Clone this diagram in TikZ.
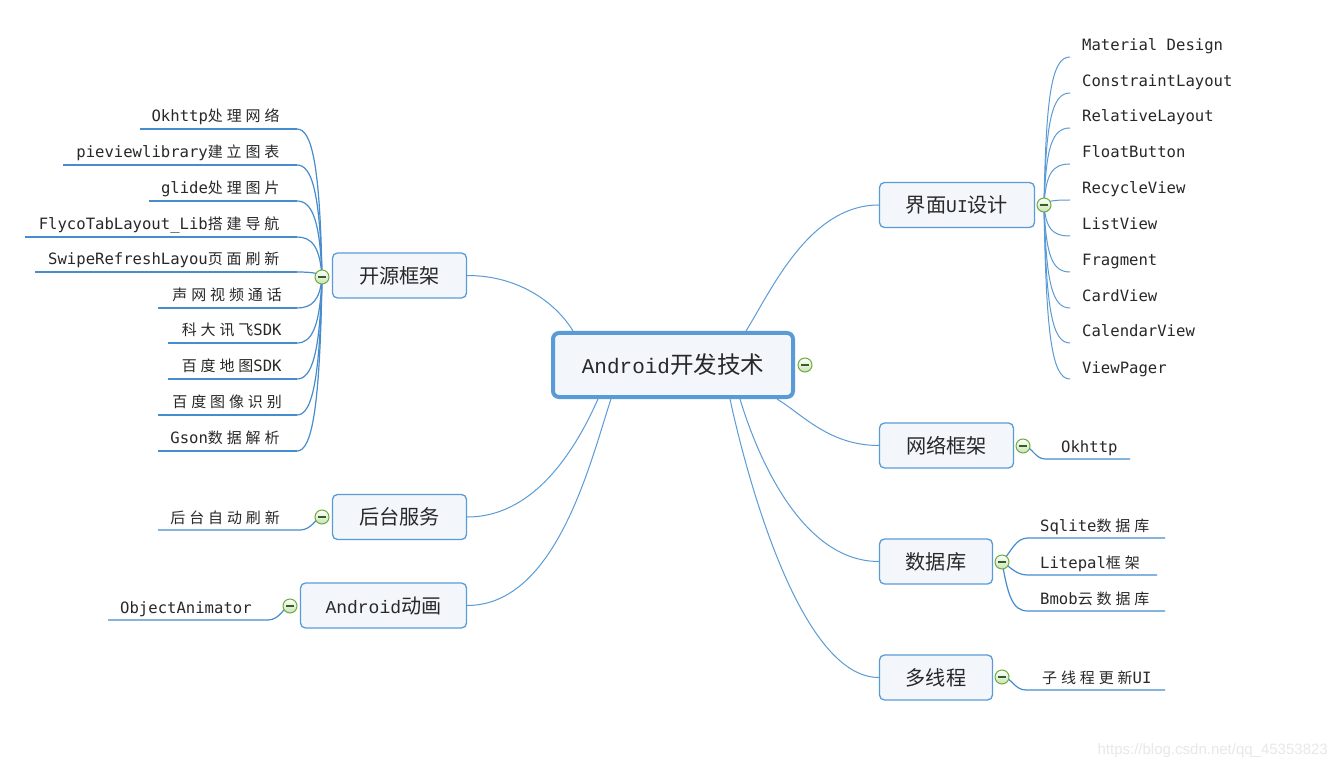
\documentclass[tikz,border=0pt]{standalone}
\usepackage{fontspec}
\usetikzlibrary{calc,backgrounds}
\pgfdeclarelayer{paper}
\pgfsetlayers{paper,background,main}
\newfontfamily\lfont{DejaVu Sans Mono}
\newfontfamily\cfont[LetterSpace=26,Scale=0.96]{Noto Sans CJK SC}
\newfontfamily\sfont{Liberation Mono}
\newfontfamily\bfont[Scale=1.12]{Noto Sans CJK SC}
\newfontfamily\wfont{Liberation Sans}
\newcommand\myC[1]{{\cfont #1}}
\newcommand\myB[1]{{\bfont #1}}
\definecolor{bl}{RGB}{91,155,213}
\definecolor{ul}{RGB}{72,140,205}
\definecolor{boxf}{RGB}{243,247,252}
\definecolor{txt}{RGB}{40,40,40}
\definecolor{togd}{RGB}{110,172,60}
\definecolor{togf}{RGB}{200,226,184}
\definecolor{togm}{RGB}{55,95,35}
\tikzset{
  leaf/.style={font=\lfont\fontsize{15.6}{18}\selectfont, anchor=base west, inner sep=0, text=txt},
  box/.style={draw=bl, line width=1.3, fill=boxf, rounded corners=5, minimum height=45, inner sep=0,
    font=\sfont\fontsize{18}{20}\selectfont, text=txt},
  mainbox/.style={box, line width=4, rounded corners=6, minimum width=240, minimum height=64,
    font=\sfont\fontsize{21}{24}\selectfont},
  tog/.style={circle, draw=togd, line width=1, minimum size=14, inner sep=0, top color=white, bottom color=togf,
    path picture={\draw[line width=1.3, togm] ($(path picture bounding box.center)+(-4,0)$) -- +(8,0);}},
  conn/.style={draw=bl, line width=1},
  uline/.style={draw=ul, line width=1.2},
}
\begin{document}
\begin{tikzpicture}[x=1pt,y=-1pt]
\begin{pgfonlayer}{paper}
\fill[white] (0,0) rectangle (1336,767);
\end{pgfonlayer}
\useasboundingbox (0,0) rectangle (1336,767);

% central and branch boxes
\node[mainbox] (C) at (673,365) {Android\myB{开发技术}};
\node[box,minimum width=134] (kyk) at (399.5,275.5) {\myB{开源框架}};
\node[box,minimum width=134] (htfw) at (399.5,517) {\myB{后台服务}};
\node[box,minimum width=166] (adh) at (383.5,605.5) {Android\myB{动画}};
\node[box,minimum width=155] (ui) at (957,205) {\myB{界面}UI\myB{设计}};
\node[box,minimum width=134] (wl) at (946.5,445.5) {\myB{网络框架}};
\node[box,minimum width=113] (sjk) at (936,561.5) {\myB{数据库}};
\node[box,minimum width=113] (dxc) at (936,677.5) {\myB{多线程}};

% toggles
\node[tog] (tC) at (805,365) {};
\node[tog] (t1) at (322,277) {};
\node[tog] (t2) at (322,517) {};
\node[tog] (t3) at (290,606) {};
\node[tog] (t4) at (1044,205) {};
\node[tog] (t5) at (1023,446) {};
\node[tog] (t6) at (1002,562) {};
\node[tog] (t7) at (1002,677) {};

% leaves of 开源框架
\foreach \n/\x/\s/\y/\t/\w in {
  1/151.4/140/129/{Okhttp\myC{处理网络}}/1.2,
  2/76.2/63/165/{pieviewlibrary\myC{建立图表}}/1.2,
  3/160.8/149/201/{glide\myC{处理图片}}/1.2,
  4/38.6/25/237/{FlycoTabLayout\_Lib\myC{搭建导航}}/1.2,
  5/48/35/272/{SwipeRefreshLayou\myC{页面刷新}}/1.2,
  6/172.2/158/308/{\myC{声网视频通话}}/1.2,
  7/181.6/168/343/{\myC{科大讯飞}SDK}/2.2,
  8/181.6/168/379/{\myC{百度地图}SDK}/1.2,
  9/172.2/158/415/{\myC{百度图像识别}}/1.2,
  10/170.2/158/451/{Gson\myC{数据解析}}/1.2}{
  \node[leaf] (k\n) at (\x,\y-7.5) {\t};
  \coordinate (ks\n) at (\s,\y);
  \coordinate (ke\n) at (297,\y);
  \begin{pgfonlayer}{background}
  \draw[uline] (ks\n) -- (ke\n) .. controls (312,\y) and (320,{\y+(277-\y)*0.25}) .. (t1.center);
  \draw[uline, line width=\w] (ks\n) -- (ke\n);
  \end{pgfonlayer}
}

% leaves of 界面UI设计
\foreach \n/\b/\t in {1/51/Material Design, 2/87/ConstraintLayout, 3/122/RelativeLayout,
  4/158/FloatButton, 5/194/RecycleView, 6/230/ListView, 7/266/Fragment, 8/302/CardView,
  9/337/CalendarView, 10/373/ViewPager}{
  \node[leaf] (u\n) at (1082,\b) {\t};
  \coordinate (ue\n) at (1070,\b+6);
  \begin{pgfonlayer}{background}
  \draw[conn] (t4.center) .. controls (1046,{205+(\b+6-205)*0.75}) and (1052,\b+6) .. (ue\n);
  \end{pgfonlayer}
}

% other leaves
\node[leaf] (ht) at (170.2,523) {\myC{后台自动刷新}};
\node[leaf] (oa) at (120,613) {ObjectAnimator};
\node[leaf] (ok) at (1061,452) {Okhttp};
\node[leaf] (sq) at (1040,531) {Sqlite\myC{数据库}};
\node[leaf] (lp) at (1040,568) {Litepal\myC{框架}};
\node[leaf] (bm) at (1040,604) {Bmob\myC{云数据库}};
\node[leaf] (zx) at (1042,683) {\myC{子线程更新}UI};

\coordinate (hts) at (158,530); \coordinate (hte) at (300,530);
\coordinate (oas) at (108,620); \coordinate (oae) at (268,620);
\coordinate (oks) at (1045,459); \coordinate (oke) at (1130,459);
\coordinate (sqs) at (1028,538); \coordinate (sqe) at (1165,538);
\coordinate (lps) at (1028,575); \coordinate (lpe) at (1157,575);
\coordinate (bms) at (1028,611); \coordinate (bme) at (1165,611);
\coordinate (zxs) at (1026,690); \coordinate (zxe) at (1165,690);

% watermark
\node[font=\wfont\fontsize{15}{17}\selectfont, text=black!9, anchor=base east, inner sep=0] (wm) at (1328,754) {https://blog.csdn.net/qq\_45353823};

\begin{pgfonlayer}{background}
% central connectors
\draw[conn] (kyk.east) .. controls +(55,0) and +(-15,-25) .. ($(C.north west)+(22,0)$);
\draw[conn] (htfw.east) .. controls +(70,0) and +(-20,45) .. ($(C.south west)+(47,0)$);
\draw[conn] (adh.east) .. controls +(90,0) and +(-20,60) .. ($(C.south west)+(60,0)$);
\draw[conn] (ui.west) .. controls +(-70,0) and +(25,-40) .. ($(C.north west)+(195,0)$);
\draw[conn] (wl.west) .. controls +(-50,0) and +(25,15) .. ($(C.south east)+(-18,0)$);
\draw[conn] (sjk.west) .. controls +(-80,0) and +(15,50) .. ($(C.south east)+(-55,0)$);
\draw[conn] (dxc.west) .. controls +(-80,0) and +(15,70) .. ($(C.south east)+(-65,0)$);
% leaf connectors
\draw[uline] (hts) -- (hte) .. controls (312,530) and (316,517) .. (t2.center);
\draw[uline] (oas) -- (oae) .. controls (280,620) and (284,606) .. (t3.center);
\draw[uline] (t5.center) .. controls (1032,446) and (1035,459) .. (oks) -- (oke);
\draw[uline] (t6.center) .. controls (1012,550) and (1016,538) .. (sqs) -- (sqe);
\draw[uline] (t6.center) .. controls (1012,568) and (1016,575) .. (lps) -- (lpe);
\draw[uline] (t6.center) .. controls (1008,595) and (1012,611) .. (bms) -- (bme);
\draw[uline] (t7.center) .. controls (1012,677) and (1014,690) .. (zxs) -- (zxe);
\end{pgfonlayer}
\end{tikzpicture}
\end{document}
